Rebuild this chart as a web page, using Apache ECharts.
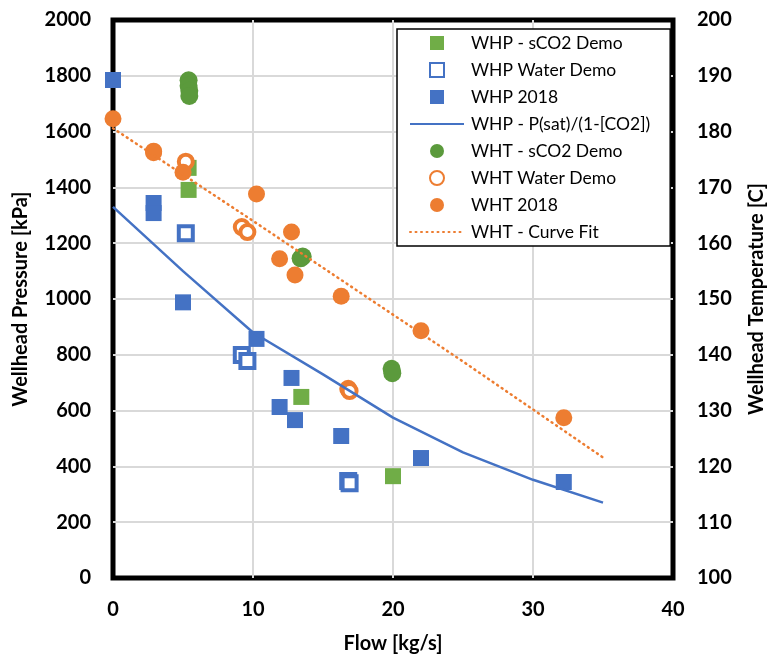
<!DOCTYPE html>
<html>
<head>
<meta charset="utf-8">
<script src="https://cdn.jsdelivr.net/npm/echarts@6/dist/echarts.min.js"></script>
<style>html,body{margin:0;padding:0;background:#fff}#c{width:768px;height:660px}</style>
</head>
<body>
<div id="c"></div>
<script>
// WHP (left axis, kPa)
var whpSco2Flow = [5.4, 5.4, 13.45, 20.0];
var whpSco2P = [1470, 1391, 649, 365];
var whpWaterFlow = [5.2, 9.2, 9.6, 16.8, 16.9];
var whpWaterP = [1236, 799, 778, 348, 340];
var whp2018Flow = [0, 2.9, 2.9, 5.0, 10.25, 12.75, 11.9, 13.0, 16.3, 22.0, 32.2];
var whp2018P = [1785, 1344, 1308, 988, 857, 717, 613, 566, 509, 430, 344];
var psatFlow = [0, 5, 10, 15, 20, 25, 30, 35];
var psatP = [1330, 1100, 880, 730, 575, 450, 352, 270];
// WHT (right axis, C)
var whtSco2Flow = [5.4, 5.4, 5.45, 5.45, 13.4, 13.55, 19.9, 19.95];
var whtSco2T = [189.2, 188.2, 187.3, 186.4, 157.3, 157.6, 137.5, 136.7];
var whtWaterFlow = [5.2, 9.2, 9.6, 16.8, 16.9];
var whtWaterT = [174.6, 162.9, 162.0, 133.9, 133.5];
var wht2018Flow = [0, 2.9, 2.9, 5.0, 10.25, 12.75, 11.9, 13.0, 16.3, 22.0, 32.2];
var wht2018T = [182.3, 176.5, 176.2, 172.7, 168.8, 162.0, 157.2, 154.3, 150.5, 144.3, 128.7];
var fitFlow = [0, 5, 10, 15, 20, 25, 30, 35];
var fitT = [180.6, 172.3, 164.0, 155.6, 147.2, 138.8, 130.2, 121.6];

function pairs(xs, ys) { return xs.map(function (x, i) { return [x, ys[i]]; }); }

var BLUE = '#4472C4', ORANGE = '#ED7D31', GREEN = '#70AD47', DGREEN = '#5B9A3C';
var FONT = 'Lato, "Open Sans", sans-serif';
var SQ = 'path://M0,0L10,0L10,10L0,10Z';
var NOSYM = {color: 'rgba(0,0,0,0)', borderColor: 'rgba(0,0,0,0)', borderWidth: 0};
var plain = function (v) { return String(v); };

var chart = echarts.init(document.getElementById('c'), null, {renderer: 'canvas'});
chart.setOption({
  animation: false,
  textStyle: {fontFamily: FONT},
  grid: {left: 113, right: 95, top: 20, bottom: 82, show: true, borderColor: '#000', borderWidth: 5,
         backgroundColor: 'transparent', outerBoundsMode: 'none', containLabel: false},
  legend: {
    orient: 'vertical', left: 397, top: 29,
    padding: [5, 20, 5, 12], itemGap: 9, itemWidth: 54, itemHeight: 14,
    symbolKeepAspect: true,
    borderColor: '#000', borderWidth: 1.5, backgroundColor: '#fff',
    textStyle: {fontFamily: FONT, fontSize: 17.5, color: '#000', padding: [0, 0, 0, 2]},
    data: [
      {name: 'WHP - sCO2 Demo', icon: SQ},
      {name: 'WHP Water Demo', icon: SQ},
      {name: 'WHP 2018', icon: SQ},
      {name: 'WHP - P(sat)/(1-[CO2])', itemStyle: NOSYM},
      {name: 'WHT - sCO2 Demo', icon: 'circle'},
      {name: 'WHT Water Demo', icon: 'circle'},
      {name: 'WHT 2018', icon: 'circle'},
      {name: 'WHT - Curve Fit', itemStyle: NOSYM}
    ]
  },
  xAxis: {
    type: 'value', min: 0, max: 40, interval: 10,
    name: 'Flow [kg/s]', nameLocation: 'middle', nameGap: 56,
    nameTextStyle: {fontFamily: FONT, fontSize: 20, fontWeight: 'bold', color: '#000'},
    axisLine: {show: false}, axisTick: {show: false},
    axisLabel: {fontFamily: FONT, fontSize: 20, fontWeight: 'bold', color: '#000', margin: 22, formatter: plain},
    splitLine: {show: true, showMinLine: false, showMaxLine: false, lineStyle: {color: '#d9d9d9', width: 2}}
  },
  yAxis: [{
    type: 'value', min: 0, max: 2000, interval: 200,
    name: 'Wellhead Pressure [kPa]', nameLocation: 'middle', nameGap: 82, nameRotate: 90,
    nameTextStyle: {fontFamily: FONT, fontSize: 20, fontWeight: 'bold', color: '#000'},
    axisLine: {show: false}, axisTick: {show: false},
    axisLabel: {fontFamily: FONT, fontSize: 20, fontWeight: 'bold', color: '#000', margin: 22, formatter: plain},
    splitLine: {show: true, showMinLine: false, showMaxLine: false, lineStyle: {color: '#d9d9d9', width: 2}}
  }, {
    type: 'value', min: 100, max: 200, interval: 10, position: 'right',
    name: 'Wellhead Temperature [C]', nameLocation: 'middle', nameGap: 74, nameRotate: 90,
    nameTextStyle: {fontFamily: FONT, fontSize: 20, fontWeight: 'bold', color: '#000'},
    axisLine: {show: false}, axisTick: {show: false},
    axisLabel: {fontFamily: FONT, fontSize: 20, fontWeight: 'bold', color: '#000', margin: 24, formatter: plain},
    splitLine: {show: false}
  }],
  series: [
    {name: 'WHP - sCO2 Demo', type: 'scatter', yAxisIndex: 0, symbol: 'rect', symbolSize: 16, symbolKeepAspect: true,
     itemStyle: {color: GREEN, opacity: 1}, data: pairs(whpSco2Flow, whpSco2P)},
    {name: 'WHP Water Demo', type: 'scatter', yAxisIndex: 0, symbol: 'rect', symbolSize: 14, symbolKeepAspect: true,
     itemStyle: {color: '#fff', borderColor: BLUE, borderWidth: 4, opacity: 1}, data: pairs(whpWaterFlow, whpWaterP)},
    {name: 'WHP 2018', type: 'scatter', yAxisIndex: 0, symbol: 'rect', symbolSize: 16, symbolKeepAspect: true,
     itemStyle: {color: BLUE, opacity: 1}, data: pairs(whp2018Flow, whp2018P)},
    {name: 'WHP - P(sat)/(1-[CO2])', type: 'line', yAxisIndex: 0, symbol: 'none', smooth: false,
     lineStyle: {color: BLUE, width: 2.5}, itemStyle: {color: BLUE}, data: pairs(psatFlow, psatP)},
    {name: 'WHT - sCO2 Demo', type: 'scatter', yAxisIndex: 1, symbol: 'circle', symbolSize: 18,
     itemStyle: {color: DGREEN, opacity: 1}, data: pairs(whtSco2Flow, whtSco2T)},
    {name: 'WHT Water Demo', type: 'scatter', yAxisIndex: 1, symbol: 'circle', symbolSize: 14,
     itemStyle: {color: '#fff', borderColor: ORANGE, borderWidth: 4, opacity: 1}, data: pairs(whtWaterFlow, whtWaterT)},
    {name: 'WHT 2018', type: 'scatter', yAxisIndex: 1, symbol: 'circle', symbolSize: 17,
     itemStyle: {color: ORANGE, opacity: 1}, data: pairs(wht2018Flow, wht2018T)},
    {name: 'WHT - Curve Fit', type: 'line', yAxisIndex: 1, symbol: 'none', smooth: false,
     lineStyle: {color: ORANGE, width: 2.5, type: [1, 4.5], cap: 'round'}, itemStyle: {color: ORANGE}, data: pairs(fitFlow, fitT)}
  ]
});
</script>
</body>
</html>
